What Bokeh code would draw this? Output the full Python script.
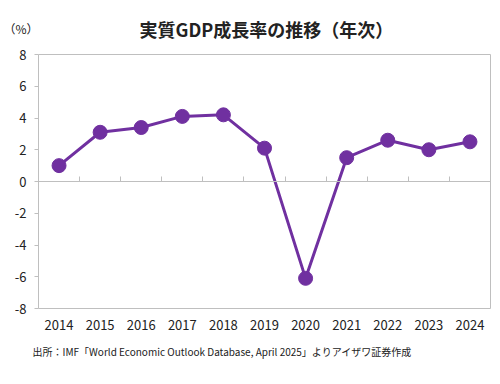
from bokeh.plotting import figure
from bokeh.models import Range1d, FixedTicker, LinearAxis, Title, Label
from bokeh.layouts import column
from bokeh.embed import file_html
from bokeh.resources import INLINE

years = ["2014", "2015", "2016", "2017", "2018", "2019", "2020", "2021", "2022", "2023", "2024"]
growth = [1.0, 3.1, 3.4, 4.1, 4.2, 2.1, -6.1, 1.5, 2.6, 2.0, 2.5]
y_ticks = [-8, -6, -4, -2, 0, 2, 4, 6, 8]
y_tick_labels = ["-8", "-6", "-4", "-2", "0", "2", "4", "6", "8"]
title_text = "実質GDP成長率の推移（年次）"
unit_text = "（%）"
source_text = "出所：IMF「World Economic Outlook Database, April 2025」よりアイザワ証券作成"

FONT = "Noto Sans CJK JP"
PURPLE = "#7030A0"
GRAY = "#bfbfbf"
TEXT = "#222222"

W = 500
LEFT, RIGHT = 36, 10
HEADER_H = 45
HEADER_TOP = 10
MAIN_H = 384 - HEADER_H

# ---- header strip: unit label (as axis label) and chart title ----
header = figure(width=W, height=HEADER_H, output_backend="svg", toolbar_location=None,
                x_range=Range1d(LEFT, W - RIGHT), y_range=Range1d(0, HEADER_H - HEADER_TOP),
                x_axis_type=None,
                min_border_left=LEFT, min_border_right=RIGHT,
                min_border_top=HEADER_TOP, min_border_bottom=0,
                background_fill_color="white", border_fill_color="white")
header.outline_line_color = None
header.xgrid.visible = False
header.ygrid.visible = False
header.yaxis.ticker = FixedTicker(ticks=[])
header.yaxis.axis_line_color = None
header.yaxis.major_tick_line_color = None
header.yaxis.minor_tick_line_color = None
header.yaxis.major_tick_out = 0
header.yaxis.major_label_text_font_size = "0px"
header.yaxis.axis_label = unit_text
header.yaxis.axis_label_orientation = "horizontal"
header.yaxis.axis_label_standoff = 0
header.yaxis.axis_label_text_font = FONT
header.yaxis.axis_label_text_font_size = "12px"
header.yaxis.axis_label_text_font_style = "normal"
header.yaxis.axis_label_text_color = TEXT
header.add_layout(Label(x=265, y=17, text=title_text, text_font=FONT, text_font_size="18px",
                        text_font_style="bold", text_color=TEXT,
                        text_align="center", text_baseline="middle"))

# ---- main chart ----
xs = list(range(len(years)))
p = figure(width=W, height=MAIN_H, output_backend="svg", toolbar_location=None,
           x_range=Range1d(-0.5, len(years) - 0.5), y_range=Range1d(y_ticks[0], y_ticks[-1]),
           min_border_left=LEFT, min_border_right=RIGHT, min_border_top=54 - HEADER_H,
           min_border_bottom=76,
           background_fill_color="white", border_fill_color="white")
p.outline_line_color = GRAY
p.xgrid.visible = False
p.ygrid.visible = False

# y axis
p.yaxis.ticker = FixedTicker(ticks=y_ticks)
p.yaxis.major_label_overrides = dict(zip(y_ticks, y_tick_labels))
p.yaxis.axis_line_color = None
p.yaxis.major_tick_line_color = GRAY
p.yaxis.major_tick_out = 4
p.yaxis.major_tick_in = 0
p.yaxis.minor_tick_line_color = None
p.yaxis.major_label_text_font = FONT
p.yaxis.major_label_text_font_size = "13px"
p.yaxis.major_label_text_color = TEXT
p.yaxis.major_label_standoff = 8

# x axis with labels at bottom
p.xaxis.ticker = FixedTicker(ticks=xs)
p.xaxis.major_label_overrides = {i: y for i, y in enumerate(years)}
p.xaxis.axis_line_color = None
p.xaxis.major_tick_line_color = None
p.xaxis.minor_tick_line_color = None
p.xaxis.major_label_text_font = FONT
p.xaxis.major_label_text_font_size = "13px"
p.xaxis.major_label_text_color = TEXT
p.xaxis.major_label_standoff = 5

# zero axis with category boundary ticks
zero_axis = LinearAxis(fixed_location=0,
                       ticker=FixedTicker(ticks=[i + 0.5 for i in xs[:-1]]),
                       axis_line_color=GRAY, major_tick_line_color=GRAY,
                       major_tick_in=5, major_tick_out=0,
                       minor_tick_line_color=None,
                       major_label_text_font_size="0px", major_label_text_color=None)
p.add_layout(zero_axis, "below")

p.line(xs, growth, line_color=PURPLE, line_width=3)
p.scatter(xs, growth, size=14, fill_color=PURPLE, line_color=PURPLE)

p.add_layout(Title(text=source_text,
                   align="left", text_font=FONT, text_font_size="10px",
                   text_font_style="normal", text_color=TEXT, offset=-6, standoff=18), "below")

layout = column(header, p, spacing=0)
open("out.html", "w").write(file_html(layout, INLINE))
